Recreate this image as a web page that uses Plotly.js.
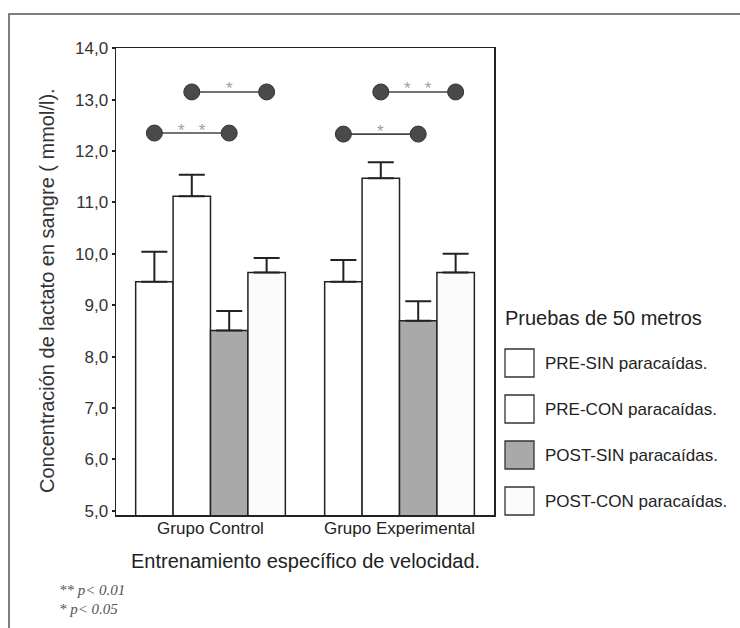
<!DOCTYPE html>
<html>
<head>
<meta charset="utf-8">
<script src="https://cdn.plot.ly/plotly-3.0.1.min.js"></script>
<style>html,body{margin:0;padding:0;background:#fff;}#chart{width:740px;height:628px;}</style>
</head>
<body>
<div id="chart"></div>
<script>
// ---- data ----
const groups = ['Grupo Control', 'Grupo Experimental'];
const seriesNames = ['PRE-SIN paracaídas.', 'PRE-CON paracaídas.', 'POST-SIN paracaídas.', 'POST-CON paracaídas.'];
const preSin = [9.46, 9.46];
const preCon = [11.12, 11.47];
const postSin = [8.51, 8.70];
const postCon = [9.64, 9.64];
const preSinErr = [0.58, 0.42];
const preConErr = [0.42, 0.31];
const postSinErr = [0.38, 0.38];
const postConErr = [0.28, 0.36];
const yTicks = [5, 6, 7, 8, 9, 10, 11, 12, 13, 14];
// significance comparisons
const sigGroup = [0, 0, 1, 1];
const sigFrom = [0, 1, 0, 1];
const sigTo = [2, 3, 2, 3];
const sigLevel = [12.35, 13.15, 12.33, 13.15];
const sigLabel = ['**', '*', '*', '**'];
const footnotes = ['** p&lt; 0.01', '* p&lt; 0.05'];
const legendTitle = 'Pruebas de 50 metros';
const yTitle = 'Concentración de lactato en sangre ( mmol/l).';
const xTitle = 'Entrenamiento específico de velocidad.';

// ---- styling ----
const values = [preSin, preCon, postSin, postCon];
const errs = [preSinErr, preConErr, postSinErr, postConErr];
const fills = ['#ffffff', '#ffffff', '#a9a9a9', '#fbfbfb'];
const BW = 0.198;
const nS = seriesNames.length;
function xpos(g, s) { return g + (s - (nS - 1) / 2) * BW; }

const L = 116, R = 494, T = 48, B = 515, W = 740, H = 628;
const px = p => (p - L) / (R - L);
const py = p => (B - p) / (B - T);

const traces = [];
values.forEach((vals, s) => {
  traces.push({
    type: 'bar',
    name: seriesNames[s],
    x: groups.map((g, gi) => xpos(gi, s)),
    y: vals,
    width: BW,
    marker: {color: fills[s], line: {color: '#222', width: 1.5}},
    error_y: {type: 'data', symmetric: false, array: errs[s], arrayminus: errs[s].map(() => 0),
              color: '#222', thickness: 2, width: 13},
    showlegend: false,
    hoverinfo: 'y'
  });
});

const annotations = [];
sigLevel.forEach((lv, i) => {
  const xa = xpos(sigGroup[i], sigFrom[i]);
  const xb = xpos(sigGroup[i], sigTo[i]);
  traces.push({
    type: 'scatter', mode: 'lines+markers',
    x: [xa, xb], y: [lv, lv],
    line: {color: '#444', width: 1.6},
    marker: {color: '#4a4a4a', size: 16, line: {color: '#333', width: 1}},
    showlegend: false, hoverinfo: 'skip'
  });
  annotations.push({
    x: (xa + xb) / 2, y: lv, xref: 'x', yref: 'y',
    text: sigLabel[i].split('').join('\u00a0\u00a0\u00a0'),
    showarrow: false, yanchor: 'middle', yshift: 3,
    font: {family: 'Liberation Sans, Arial, sans-serif', size: 17, color: '#a0a0a0'}
  });
});

// axis titles
annotations.push({
  xref: 'paper', yref: 'paper', x: px(47), y: py(291),
  xanchor: 'center', yanchor: 'middle', showarrow: false, textangle: -90,
  text: yTitle, font: {family: 'Liberation Sans, Arial, sans-serif', size: 20, color: '#333'}
});
annotations.push({
  xref: 'paper', yref: 'paper', x: px(305), y: py(561),
  xanchor: 'center', yanchor: 'middle', showarrow: false,
  text: xTitle, font: {family: 'Liberation Sans, Arial, sans-serif', size: 20, color: '#222'}
});

// footnotes
footnotes.forEach((t, i) => {
  annotations.push({
    xref: 'paper', yref: 'paper', x: px(57), y: py(590 + i * 19),
    xanchor: 'left', yanchor: 'middle', showarrow: false,
    text: '<i>' + t + '</i>',
    font: {family: 'Liberation Serif, Times New Roman, serif', size: 15, color: '#555'}
  });
});

// custom legend
const shapes = [];
annotations.push({
  xref: 'paper', yref: 'paper', x: px(503), y: py(318),
  xanchor: 'left', yanchor: 'middle', showarrow: false, text: legendTitle,
  font: {family: 'Liberation Sans, Arial, sans-serif', size: 20, color: '#222'}
});
seriesNames.forEach((n, s) => {
  const cy = 363 + s * 46;
  shapes.push({
    type: 'rect', xref: 'paper', yref: 'paper',
    x0: px(505), x1: px(534), y0: py(cy + 14), y1: py(cy - 14),
    fillcolor: fills[s], line: {color: '#333', width: 1.3}
  });
  annotations.push({
    xref: 'paper', yref: 'paper', x: px(543), y: py(cy),
    xanchor: 'left', yanchor: 'middle', showarrow: false, text: n,
    font: {family: 'Liberation Sans, Arial, sans-serif', size: 17, color: '#222'}
  });
});

// outer frame
shapes.push({
  type: 'rect', xref: 'paper', yref: 'paper',
  x0: px(9), x1: px(W + 5), y0: py(H + 5), y1: py(14),
  fillcolor: 'rgba(0,0,0,0)', line: {color: '#555', width: 1.5}, layer: 'below'
});

const layout = {
  width: W, height: H,
  margin: {l: L, r: W - R, t: T, b: H - B, pad: 0},
  paper_bgcolor: '#fff', plot_bgcolor: '#fff',
  separators: ', ',
  barmode: 'overlay',
  font: {family: 'Liberation Sans, Arial, sans-serif', color: '#333'},
  xaxis: {
    type: 'linear', range: [-0.5, 1.5],
    tickvals: groups.map((g, i) => i), ticktext: groups,
    showgrid: false, zeroline: false,
    showline: true, linecolor: '#222', linewidth: 1.5, mirror: true,
    ticks: '', tickfont: {size: 17, color: '#222'}, ticklabelstandoff: -3
  },
  yaxis: {
    range: [4.92, 14.005],
    tickvals: yTicks, tickformat: '.1f',
    showgrid: false, zeroline: false,
    showline: true, linecolor: '#222', linewidth: 1.5, mirror: true,
    ticks: 'outside', ticklen: 3, tickwidth: 2, tickcolor: '#222',
    tickfont: {size: 17, color: '#333'}
  },
  shapes: shapes,
  annotations: annotations
};

Plotly.newPlot('chart', traces, layout, {displayModeBar: false, staticPlot: true});
</script>
</body>
</html>
